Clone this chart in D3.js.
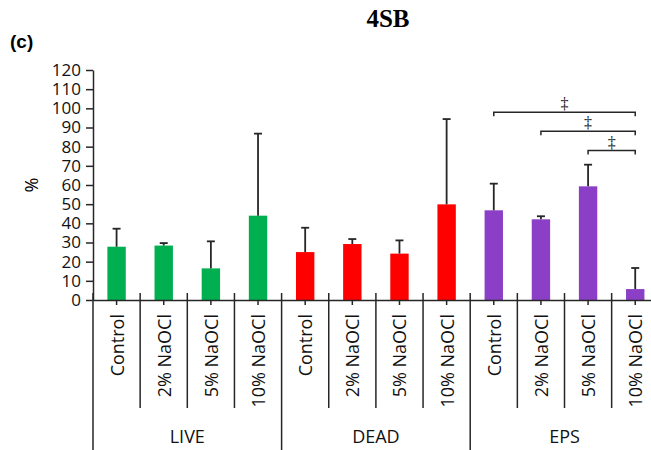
<!DOCTYPE html>
<html>
<head>
<meta charset="utf-8">
<script src="https://cdn.jsdelivr.net/npm/d3@7"></script>
<style>
  body { margin: 0; background: #fff; }
  svg { display: block; }
</style>
</head>
<body>
<svg id="chart" width="651" height="450"></svg>
<script>
// 数据
const groups = ['LIVE', 'DEAD', 'EPS']
const treatments = ['Control', '2% NaOCl', '5% NaOCl', '10% NaOCl']
const groupColors = ['#00b050', '#ff0000', '#8a3fc6']
const liveMean = [27.8, 28.4, 16.5, 44.0]
const liveSd = [9.4, 1.3, 14.1, 42.8]
const deadMean = [25.0, 29.2, 24.2, 49.9]
const deadSd = [12.7, 2.6, 6.9, 44.5]
const epsMean = [46.8, 42.1, 59.3, 5.7]
const epsSd = [13.9, 1.6, 11.3, 11.0]
const yTicks = [0, 10, 20, 30, 40, 50, 60, 70, 80, 90, 100, 110, 120]
// 显著性标记 (EPS 组内: from, to, level)
const sigPairs = [[0, 3, 98], [1, 3, 88], [2, 3, 78]]
const sigLabel = '\u2021'

const means = [liveMean, deadMean, epsMean]
const sds = [liveSd, deadSd, epsSd]
const rows = []
groups.forEach((g, gi) => {
    treatments.forEach((t, ti) => {
        rows.push({
            key: g + '|' + t,
            group: g,
            gi,
            label: t,
            mean: means[gi][ti],
            sd: sds[gi][ti]
        })
    })
})

const svg = d3.select('#chart')
const left = 93, bandW = 47.15
const x = d3.scaleBand()
    .domain(rows.map(d => d.key))
    .range([left, left + bandW * rows.length])
    .paddingInner(0)
    .paddingOuter(0)
const y = d3.scaleLinear().domain([0, 120]).range([300, 70])
const barW = x.bandwidth() * 0.39
const cx = d => x(d.key) + x.bandwidth() / 2
const ink = '#262626'
const sans = "'Open Sans', sans-serif"
const serif = "'Liberation Serif', 'Times New Roman', serif"

// 标题
svg.append('text')
    .attr('x', 388).attr('y', 27)
    .attr('text-anchor', 'middle')
    .attr('font-family', serif)
    .attr('font-weight', 'bold')
    .attr('font-size', 25)
    .text('4SB')

svg.append('text')
    .attr('x', 10).attr('y', 48)
    .attr('font-family', "'Liberation Sans', Arial, sans-serif")
    .attr('font-weight', 'bold')
    .attr('font-size', 19)
    .text('(c)')

// y 轴
const yAxis = svg.append('g')
    .attr('transform', `translate(${left},0)`)
    .call(d3.axisLeft(y).tickValues(yTicks).tickSize(7).tickSizeOuter(0).tickPadding(5))
yAxis.select('.domain').attr('stroke', ink).attr('stroke-width', 1.5)
yAxis.selectAll('.tick line').attr('stroke', ink).attr('stroke-width', 1.5)
yAxis.selectAll('.tick text')
    .attr('font-family', sans).attr('font-size', 17).attr('fill', '#111')

svg.append('text')
    .attr('transform', 'translate(38,185) rotate(-90)')
    .attr('text-anchor', 'middle')
    .attr('font-family', sans).attr('font-size', 18)
    .text('%')

// 柱
svg.append('g').selectAll('rect')
    .data(rows)
    .join('rect')
    .attr('x', d => cx(d) - barW / 2)
    .attr('y', d => y(d.mean))
    .attr('width', barW)
    .attr('height', d => y(0) - y(d.mean))
    .attr('fill', d => groupColors[d.gi])

// 误差线
const err = svg.append('g').attr('stroke', ink).attr('stroke-width', 1.8)
err.selectAll('line.v')
    .data(rows)
    .join('line')
    .attr('class', 'v')
    .attr('x1', cx).attr('x2', cx)
    .attr('y1', d => y(d.mean)).attr('y2', d => y(d.mean + d.sd))
err.selectAll('line.cap')
    .data(rows)
    .join('line')
    .attr('class', 'cap')
    .attr('x1', d => cx(d) - 4).attr('x2', d => cx(d) + 4)
    .attr('y1', d => y(d.mean + d.sd)).attr('y2', d => y(d.mean + d.sd))

// x 轴
const xAxis = svg.append('g')
    .attr('transform', `translate(0,${y(0)})`)
    .call(d3.axisBottom(x).tickSize(5).tickSizeOuter(0).tickFormat(''))
xAxis.select('.domain').attr('stroke', ink).attr('stroke-width', 1.5)
xAxis.selectAll('.tick line').attr('stroke', ink).attr('stroke-width', 1.5)

// 分隔线
const dividers = svg.append('g').attr('stroke', ink).attr('stroke-width', 1.5)
dividers.selectAll('line.minor')
    .data(rows.filter((d, i) => i % treatments.length !== 0))
    .join('line')
    .attr('class', 'minor')
    .attr('x1', d => x(d.key)).attr('x2', d => x(d.key))
    .attr('y1', y(0) - 7).attr('y2', 408)
dividers.selectAll('line.major')
    .data(rows.filter((d, i) => i % treatments.length === 0))
    .join('line')
    .attr('class', 'major')
    .attr('x1', d => x(d.key)).attr('x2', d => x(d.key))
    .attr('y1', y(0) - 7).attr('y2', 452)

// 类别标签
svg.append('g').selectAll('text')
    .data(rows)
    .join('text')
    .attr('transform', d => `translate(${cx(d) + 7},314) rotate(-90)`)
    .attr('text-anchor', 'end')
    .attr('font-family', sans).attr('font-size', 18).attr('fill', '#111')
    .text(d => d.label)

// 组标签
svg.append('g').selectAll('text')
    .data(groups)
    .join('text')
    .attr('x', g => {
        const a = x(g + '|' + treatments[0])
        const b = x(g + '|' + treatments[treatments.length - 1]) + x.bandwidth()
        return (a + b) / 2
    })
    .attr('y', 443)
    .attr('text-anchor', 'middle')
    .attr('font-family', sans).attr('font-size', 18).attr('fill', '#111')
    .text(g => g)

// 显著性括号
const eps = rows.filter(d => d.group === 'EPS')
const sig = svg.append('g')
sigPairs.forEach(([a, b, lv]) => {
    const x1 = cx(eps[a]), x2 = cx(eps[b]), yy = y(lv)
    sig.append('path')
        .attr('d', `M${x1},${yy + 4}V${yy}H${x2}V${yy + 4}`)
        .attr('fill', 'none').attr('stroke', ink).attr('stroke-width', 1.5)
    sig.append('text')
        .attr('x', (x1 + x2) / 2).attr('y', yy - 3)
        .attr('text-anchor', 'middle')
        .attr('font-family', serif)
        .attr('font-size', 16)
        .attr('fill', '#111')
        .text(sigLabel)
})
</script>
</body>
</html>
